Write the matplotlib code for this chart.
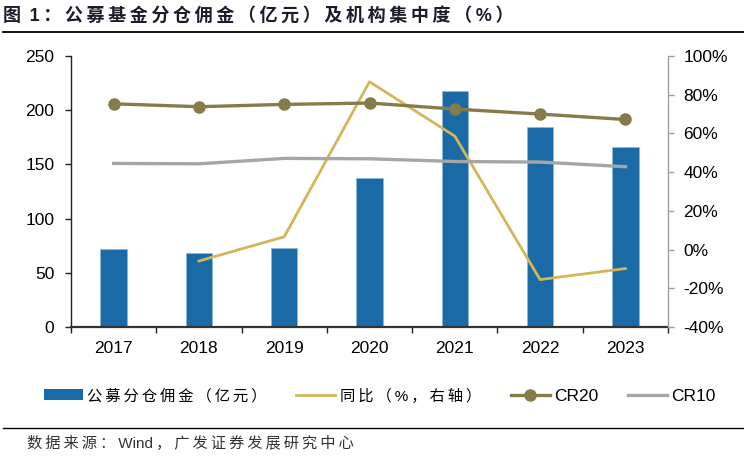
import matplotlib
matplotlib.use("Agg")
import matplotlib.pyplot as plt
import numpy as np
from matplotlib.lines import Line2D
from matplotlib.patches import Patch

plt.rcParams['font.family'] = ['Liberation Sans', 'Noto Sans CJK SC', 'DejaVu Sans']

years = ['2017', '2018', '2019', '2020', '2021', '2022', '2023']
commission = [72.4, 68.7, 73.3, 137.0, 217.4, 184.1, 166.3]
yoy = [None, -5.9, 6.6, 86.7, 58.6, -15.5, -9.8]
cr20 = [75.3, 73.8, 75.0, 75.7, 72.6, 70.0, 67.2]
cr10 = [44.5, 44.3, 47.1, 46.9, 45.5, 45.2, 42.8]
left_ticks = [0, 50, 100, 150, 200, 250]
right_ticks = [-40, -20, 0, 20, 40, 60, 80, 100]
series_labels = ['公募分仓佣金（亿元）', '同比（%，右轴）', 'CR20', 'CR10']
title_text = '图 1：公募基金分仓佣金（亿元）及机构集中度（%）'
source_text = '数据来源：Wind，广发证券发展研究中心'

THIN = '\u2009'


def is_wide(c):
    return ord(c) >= 0x2E80


def tracked(s):
    """Add a thin space next to wide (CJK) characters to imitate the loose spacing."""
    out = ''
    for i, c in enumerate(s):
        out += c
        if i < len(s) - 1 and (is_wide(c) or is_wide(s[i + 1])):
            out += THIN
    return out


W, H = 744, 459
fig = plt.figure(figsize=(W / 100, H / 100), dpi=100)

ax1 = fig.add_axes([71 / W, 1 - 327 / H, (668 - 71) / W, (327 - 56) / H])
ax2 = ax1.twinx()

bar_c = '#1A6AA5'
yoy_c = '#D3B658'
cr20_c = '#857B4B'
cr10_c = '#A6A6A6'

x = np.arange(len(years))
ax1.bar(x, commission, width=0.31, color=bar_c, edgecolor='#8DB8DC', linewidth=0.5, zorder=2)
ax1.set_ylim(0, 250)
ax1.set_yticks(left_ticks)
ax1.set_xlim(-0.5, len(years) - 0.5)

yoy_x = [i for i, v in enumerate(yoy) if v is not None]
yoy_y = [v for v in yoy if v is not None]
ax2.plot(yoy_x, yoy_y, color=yoy_c, linewidth=2.0, zorder=3)
ax2.plot(x, cr10, color=cr10_c, linewidth=2.4, zorder=3)
ax2.plot(x, cr20, color=cr20_c, linewidth=2.4, marker='o', markersize=8, zorder=4)
ax2.set_ylim(-40, 100)
ax2.set_yticks(right_ticks)
ax2.set_yticklabels([f'{t}%' for t in right_ticks])

# x ticks: boundaries as tick marks, labels at category centres
ax1.set_xticks(np.arange(-0.5, len(years), 1.0))
ax1.set_xticklabels([])
ax1.set_xticks(x, minor=True)
ax1.set_xticklabels(years, minor=True)
ax1.tick_params(axis='x', which='major', direction='out', length=4, width=1, color='#222222')
ax1.tick_params(axis='x', which='minor', length=0, pad=10, labelsize=12.5)
ax1.tick_params(axis='y', direction='out', length=4, width=1, pad=8, labelsize=12.5, color='#222222')
ax2.tick_params(axis='y', direction='out', length=4, width=1, pad=7, labelsize=12.5, color='#A0A0A0')

for ax in (ax1, ax2):
    ax.spines['top'].set_visible(False)
ax1.spines['left'].set_color('#222222')
ax1.spines['left'].set_linewidth(1.0)
ax1.spines['bottom'].set_color('#333333')
ax1.spines['bottom'].set_linewidth(1.6)
ax1.spines['right'].set_visible(False)
ax2.spines['left'].set_visible(False)
ax2.spines['bottom'].set_visible(False)
ax2.spines['right'].set_color('#A0A0A0')
ax2.spines['right'].set_linewidth(1.0)

# Title
fig.text(3 / W, 1 - 16 / H, tracked(title_text), fontsize=13,
         fontweight='bold', color='#1c1c2a', ha='left', va='center')
fig.add_artist(Line2D([3 / W, 1.0], [1 - 32 / H, 1 - 32 / H], color='black', linewidth=1.3))

# Legend
handles = [
    Patch(facecolor=bar_c, edgecolor='none'),
    Line2D([], [], color=yoy_c, linewidth=2.0),
    Line2D([], [], color=cr20_c, linewidth=2.4, marker='o', markersize=8),
    Line2D([], [], color=cr10_c, linewidth=2.4),
]
labels = [tracked(s) for s in series_labels]
leg = fig.legend(handles, labels, loc='center left', bbox_to_anchor=(44 / W, 1 - 396 / H), ncol=4,
                 frameon=False, fontsize=12.5, handlelength=2.25, handletextpad=0.25,
                 columnspacing=1.7, handleheight=0.55, borderpad=0, borderaxespad=0)
for t, s in zip(leg.get_texts(), series_labels):
    if any(is_wide(c) for c in s):
        t.set_fontsize(11)

# Footer
fig.add_artist(Line2D([3 / W, 1.0], [1 - 428 / H, 1 - 428 / H], color='black', linewidth=1.0))
fig.text(27 / W, 1 - 443 / H, tracked(source_text), fontsize=11,
         color='#333333', ha='left', va='center')

fig.savefig('out.png', dpi=100)
